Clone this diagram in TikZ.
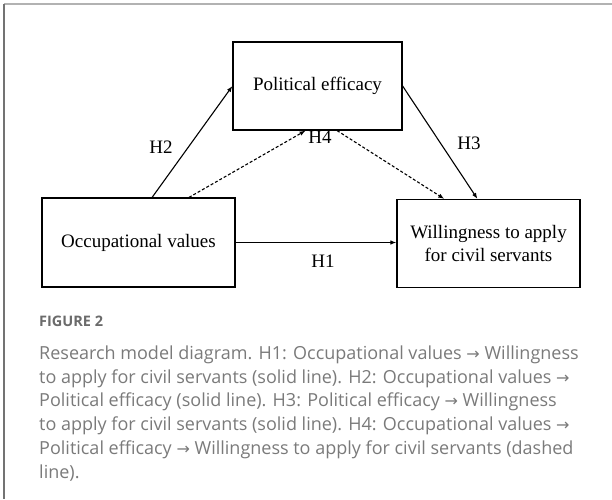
\documentclass[tikz,border=0pt]{standalone}
\usepackage{fontspec}
\setmainfont{Liberation Serif}
\newfontfamily\capfont{Open Sans}
\newfontfamily\arrowfont{DejaVu Sans}
\usetikzlibrary{arrows.meta,calc,positioning}
\definecolor{capgray}{HTML}{7A7A7A}
\newcommand{\ra}{{\arrowfont\fontsize{16}{16}\selectfont →}}
\begin{document}
\begin{tikzpicture}[
    x=1pt, y=-1pt,
    var/.style={rectangle, draw, line width=1.2pt, align=center, font=\fontsize{19}{23}\selectfont, inner sep=0pt},
    hyp/.style={font=\fontsize{19}{23}\selectfont, inner sep=0pt},
    arrow/.style={line width=1.1pt, -{Latex[length=6pt,width=4.5pt]}},
    mediated/.style={arrow, dash pattern=on 3pt off 2pt}
]
    \useasboundingbox (0,0) rectangle (612,499);
    % Frame
    \draw [black!30, line width=1.5pt] (4,4) -- (612,4);
    \draw [black!55, line width=1.5pt] (4,4) -- (4,499);

    % Variables
    \node [var, minimum width=169pt, minimum height=88pt] (pe) at (317.5,86) {Political efficacy};
    \node [var, minimum width=193pt, minimum height=89pt] (ov) at (138.5,242.5) {Occupational values};
    \node [var, minimum width=183pt, minimum height=88pt] (will) at (488.5,243.5) {Willingness to apply\\for civil servants};

    % Paths
    \draw [arrow] ($(ov.north west)!0.57!(ov.north east)$) -- (pe.west);
    \draw [arrow] (pe.east) -- ($(will.north west)!0.44!(will.north east)$);
    \draw [arrow] (ov.east) -- (ov.east -| will.west);
    \draw [mediated] ($(ov.north west)!0.76!(ov.north east)$) -- ($(pe.south west)!0.43!(pe.south east)$);
    \draw [mediated] ($(pe.south west)!0.615!(pe.south east)$) -- ($(will.north west)!0.26!(will.north east)$);

    % Hypothesis labels
    \node [hyp] (h1) at (323,261) {H1};
    \node [hyp] (h2) at (161,147) {H2};
    \node [hyp] (h3) at (469,143) {H3};
    \node [hyp] (h4) at (320,137) {H4};

    % Caption
    \node [anchor=north west, inner sep=0pt, text=black!58, font=\capfont\bfseries\fontsize{14.5}{14.5}\selectfont] (fig) at (39,316) {FIGURE 2};
    \node [anchor=north west, inner sep=0pt, align=left, text=capgray, font=\capfont\fontsize{18}{23.8}\selectfont] (cap) at (39,345.5)
        {Research model diagram. H1: Occupational values \ra{} Willingness\\
         to apply for civil servants (solid line). H2: Occupational values \ra\\
         Political efficacy (solid line). H3: Political efficacy \ra{} Willingness\\
         to apply for civil servants (solid line). H4: Occupational values \ra\\
         Political efficacy \ra{} Willingness to apply for civil servants (dashed\\
         line).};
\end{tikzpicture}
\end{document}
